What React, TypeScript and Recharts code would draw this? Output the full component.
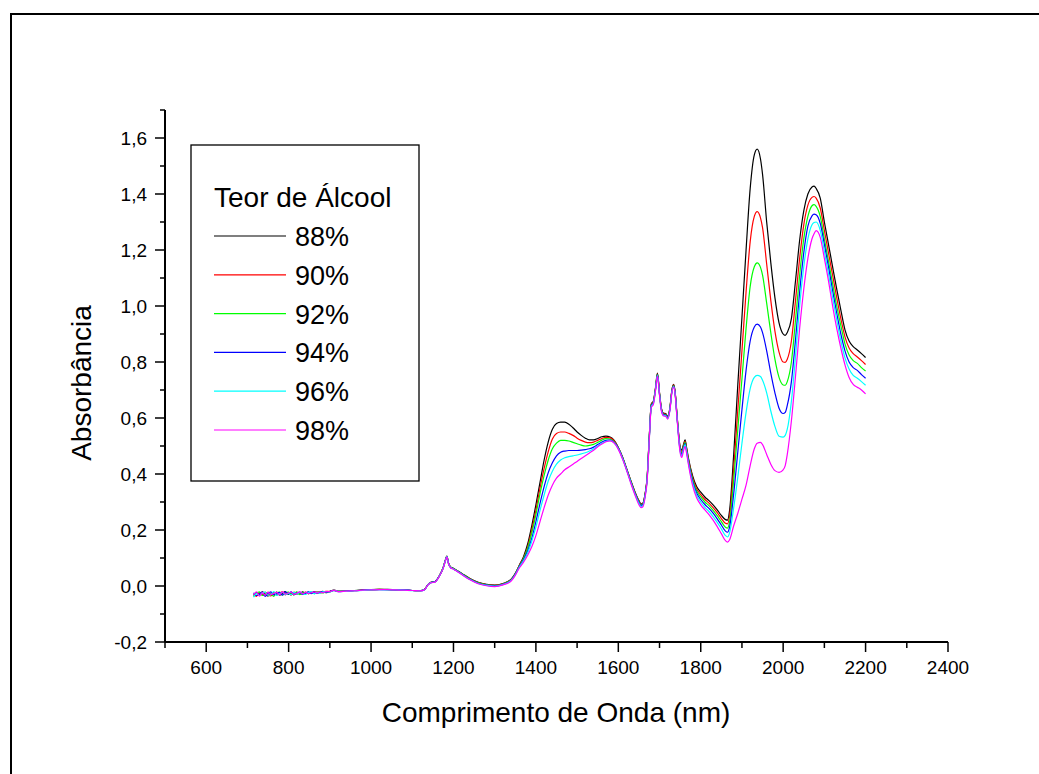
import React from "react";
import { LineChart, Line, XAxis, YAxis } from "recharts";

// Wavelengths (nm)
const WAVELENGTH_NM = [
  715, 722, 729, 736, 743, 750, 757, 764, 771, 778, 785, 792, 799, 806, 813, 820, 827, 834, 841, 848, 855, 862, 869, 876, 883, 890,
  900, 910, 920, 940, 960, 980, 1000, 1020, 1040, 1060, 1080, 1100, 1120,
  1130, 1138, 1145, 1155, 1165, 1175, 1181, 1184, 1188, 1193, 1200, 1210, 1220, 1240, 1260, 1280, 1300, 1320, 1340,
  1350, 1360, 1370, 1380, 1390, 1400, 1410, 1420, 1430, 1440, 1450, 1460, 1470, 1480, 1490, 1500, 1510, 1520, 1530, 1540, 1550, 1560, 1570, 1580, 1590, 1600, 1610, 1620, 1630, 1640, 1650, 1655, 1660,
  1665, 1670, 1675, 1680, 1685, 1690, 1695, 1700, 1705, 1710, 1715, 1720, 1725, 1730, 1734, 1738, 1742, 1746, 1750, 1754, 1758, 1762, 1766, 1770,
  1780, 1790, 1800, 1810, 1820, 1830, 1840, 1850, 1860, 1865,
  1870, 1880, 1890, 1900, 1910, 1920, 1930, 1937, 1945, 1950, 1960, 1970, 1980, 1990, 2000, 2005, 2010, 2020, 2030, 2040, 2050, 2060, 2070, 2075, 2080, 2090, 2100, 2110, 2120, 2130, 2140, 2150, 2160, 2170, 2180, 2190, 2200,
];

const ABS_88 = [
  -0.034, -0.024, -0.031, -0.021, -0.029, -0.036, -0.025, -0.031, -0.022, -0.033, -0.026, -0.02, -0.03, -0.024, -0.032, -0.023, -0.029, -0.021, -0.027, -0.022, -0.026, -0.02, -0.025, -0.021, -0.019, -0.024,
  -0.019, -0.015, -0.018, -0.018, -0.016, -0.015, -0.013, -0.012, -0.012, -0.014, -0.015, -0.016, -0.017,
  -0.012, 0.005, 0.013, 0.016, 0.035, 0.066, 0.096, 0.107, 0.082, 0.068, 0.063, 0.054, 0.045, 0.027, 0.013, 0.006, 0.003, 0.009, 0.024,
  0.045, 0.075, 0.105, 0.15, 0.215, 0.29, 0.37, 0.45, 0.515, 0.56, 0.58, 0.585, 0.585, 0.578, 0.565, 0.55, 0.538, 0.528, 0.522, 0.522, 0.527, 0.533, 0.535, 0.532, 0.52, 0.495, 0.462, 0.42, 0.378, 0.338, 0.305, 0.293, 0.297,
  0.33, 0.39, 0.53, 0.65, 0.66, 0.705, 0.76, 0.69, 0.632, 0.617, 0.616, 0.606, 0.635, 0.7, 0.72, 0.692, 0.62, 0.55, 0.497, 0.485, 0.505, 0.522, 0.492, 0.458,
  0.395, 0.355, 0.335, 0.318, 0.305, 0.29, 0.272, 0.252, 0.237, 0.235,
  0.27, 0.47, 0.72, 0.96, 1.2, 1.42, 1.54, 1.56, 1.525, 1.47, 1.3, 1.155, 1.03, 0.94, 0.9, 0.895, 0.905, 0.955, 1.09, 1.235, 1.34, 1.4, 1.425, 1.428, 1.42, 1.385, 1.3, 1.22, 1.14, 1.06, 0.985, 0.915, 0.875, 0.855, 0.843, 0.83, 0.816,
];

const ABS_90 = [
  -0.028, -0.037, -0.024, -0.032, -0.022, -0.031, -0.035, -0.023, -0.032, -0.025, -0.021, -0.032, -0.023, -0.033, -0.022, -0.03, -0.024, -0.029, -0.022, -0.027, -0.021, -0.026, -0.02, -0.025, -0.023, -0.019,
  -0.02, -0.016, -0.019, -0.017, -0.017, -0.014, -0.013, -0.012, -0.013, -0.014, -0.015, -0.016, -0.017,
  -0.012, 0.005, 0.013, 0.015, 0.035, 0.065, 0.095, 0.106, 0.081, 0.067, 0.062, 0.053, 0.044, 0.026, 0.012, 0.005, 0.002, 0.008, 0.023,
  0.044, 0.074, 0.1, 0.14, 0.2, 0.27, 0.35, 0.42, 0.48, 0.525, 0.545, 0.55, 0.55, 0.545, 0.538, 0.528, 0.52, 0.514, 0.512, 0.514, 0.52, 0.527, 0.531, 0.529, 0.518, 0.494, 0.46, 0.419, 0.376, 0.336, 0.303, 0.291, 0.295,
  0.328, 0.388, 0.528, 0.648, 0.658, 0.703, 0.758, 0.688, 0.63, 0.615, 0.614, 0.604, 0.633, 0.698, 0.718, 0.69, 0.617, 0.547, 0.493, 0.48, 0.5, 0.517, 0.488, 0.453,
  0.388, 0.347, 0.326, 0.309, 0.296, 0.28, 0.262, 0.241, 0.224, 0.222,
  0.25, 0.42, 0.63, 0.84, 1.05, 1.23, 1.32, 1.337, 1.315, 1.28, 1.15, 1.02, 0.91, 0.835, 0.8, 0.799, 0.81, 0.875, 1.02, 1.17, 1.29, 1.36, 1.388, 1.391, 1.385, 1.35, 1.27, 1.19, 1.11, 1.03, 0.955, 0.89, 0.85, 0.83, 0.818, 0.805, 0.791,
];

const ABS_92 = [
  -0.038, -0.026, -0.021, -0.034, -0.03, -0.023, -0.029, -0.037, -0.024, -0.022, -0.032, -0.026, -0.022, -0.029, -0.027, -0.021, -0.031, -0.025, -0.023, -0.028, -0.022, -0.027, -0.024, -0.02, -0.025, -0.021,
  -0.021, -0.015, -0.019, -0.018, -0.016, -0.015, -0.014, -0.012, -0.013, -0.013, -0.015, -0.016, -0.016,
  -0.012, 0.005, 0.012, 0.015, 0.034, 0.065, 0.095, 0.106, 0.081, 0.067, 0.062, 0.053, 0.044, 0.025, 0.011, 0.004, 0.001, 0.007, 0.022,
  0.043, 0.072, 0.098, 0.135, 0.19, 0.255, 0.33, 0.395, 0.45, 0.49, 0.51, 0.52, 0.52, 0.518, 0.513, 0.508, 0.503, 0.5, 0.502, 0.506, 0.513, 0.521, 0.526, 0.525, 0.515, 0.493, 0.459, 0.418, 0.375, 0.334, 0.3, 0.289, 0.293,
  0.326, 0.386, 0.526, 0.646, 0.656, 0.701, 0.756, 0.686, 0.628, 0.613, 0.612, 0.602, 0.631, 0.696, 0.716, 0.688, 0.615, 0.544, 0.489, 0.475, 0.496, 0.513, 0.484, 0.449,
  0.382, 0.34, 0.318, 0.3, 0.287, 0.27, 0.251, 0.23, 0.21, 0.207,
  0.23, 0.38, 0.56, 0.74, 0.92, 1.07, 1.14, 1.154, 1.138, 1.11, 1.01, 0.905, 0.81, 0.745, 0.718, 0.717, 0.73, 0.8, 0.95, 1.11, 1.24, 1.32, 1.358, 1.362, 1.356, 1.32, 1.24, 1.16, 1.08, 1.0, 0.93, 0.865, 0.825, 0.805, 0.795, 0.78, 0.768,
];

const ABS_94 = [
  -0.024, -0.034, -0.028, -0.022, -0.037, -0.026, -0.021, -0.032, -0.028, -0.023, -0.033, -0.021, -0.028, -0.021, -0.03, -0.026, -0.022, -0.03, -0.025, -0.021, -0.027, -0.022, -0.026, -0.022, -0.02, -0.022,
  -0.02, -0.016, -0.02, -0.018, -0.017, -0.015, -0.013, -0.013, -0.013, -0.014, -0.014, -0.016, -0.017,
  -0.013, 0.004, 0.012, 0.015, 0.034, 0.064, 0.094, 0.105, 0.08, 0.066, 0.061, 0.052, 0.043, 0.024, 0.01, 0.003, 0.0, 0.006, 0.021,
  0.042, 0.07, 0.094, 0.125, 0.17, 0.23, 0.295, 0.355, 0.405, 0.44, 0.465, 0.478, 0.482, 0.484, 0.484, 0.484, 0.485, 0.487, 0.49, 0.496, 0.505, 0.514, 0.52, 0.521, 0.513, 0.492, 0.458, 0.417, 0.373, 0.332, 0.298, 0.287, 0.291,
  0.324, 0.384, 0.524, 0.644, 0.654, 0.699, 0.754, 0.684, 0.626, 0.611, 0.61, 0.6, 0.629, 0.694, 0.714, 0.686, 0.612, 0.541, 0.485, 0.47, 0.492, 0.509, 0.48, 0.444,
  0.375, 0.332, 0.309, 0.291, 0.277, 0.26, 0.24, 0.218, 0.196, 0.192,
  0.21, 0.33, 0.48, 0.63, 0.77, 0.875, 0.925, 0.935, 0.925, 0.905, 0.84, 0.76, 0.69, 0.635, 0.616, 0.62, 0.645, 0.73, 0.88, 1.05, 1.19, 1.285, 1.322, 1.328, 1.326, 1.295, 1.22, 1.14, 1.055, 0.975, 0.9, 0.84, 0.8, 0.78, 0.77, 0.755, 0.742,
];

const ABS_96 = [
  -0.04, -0.027, -0.034, -0.025, -0.022, -0.033, -0.03, -0.02, -0.034, -0.028, -0.023, -0.031, -0.026, -0.032, -0.023, -0.029, -0.023, -0.027, -0.03, -0.023, -0.02, -0.028, -0.022, -0.026, -0.021, -0.02,
  -0.021, -0.016, -0.019, -0.019, -0.017, -0.016, -0.014, -0.013, -0.014, -0.014, -0.015, -0.017, -0.017,
  -0.013, 0.004, 0.012, 0.014, 0.034, 0.064, 0.094, 0.105, 0.08, 0.066, 0.061, 0.052, 0.042, 0.023, 0.009, 0.002, -0.001, 0.005, 0.02,
  0.04, 0.068, 0.09, 0.118, 0.16, 0.21, 0.27, 0.325, 0.375, 0.41, 0.435, 0.45, 0.458, 0.462, 0.465, 0.468, 0.472, 0.476, 0.482, 0.49, 0.5, 0.51, 0.517, 0.519, 0.511, 0.49, 0.456, 0.415, 0.371, 0.33, 0.295, 0.284, 0.288,
  0.321, 0.381, 0.521, 0.641, 0.651, 0.697, 0.752, 0.682, 0.624, 0.609, 0.608, 0.598, 0.627, 0.692, 0.712, 0.684, 0.61, 0.538, 0.481, 0.465, 0.488, 0.505, 0.476, 0.44,
  0.368, 0.324, 0.3, 0.281, 0.266, 0.248, 0.227, 0.204, 0.18, 0.175,
  0.19, 0.28, 0.39, 0.51, 0.62, 0.705, 0.745, 0.752, 0.748, 0.735, 0.69, 0.625, 0.57, 0.535, 0.532, 0.538, 0.56, 0.66, 0.82, 1.0, 1.14, 1.24, 1.29, 1.298, 1.3, 1.27, 1.195, 1.115, 1.03, 0.95, 0.875, 0.815, 0.775, 0.752, 0.742, 0.73, 0.717,
];

const ABS_98 = [
  -0.031, -0.021, -0.036, -0.024, -0.033, -0.022, -0.03, -0.027, -0.023, -0.032, -0.021, -0.029, -0.025, -0.022, -0.03, -0.025, -0.021, -0.028, -0.023, -0.027, -0.024, -0.021, -0.026, -0.021, -0.024, -0.02,
  -0.02, -0.015, -0.02, -0.018, -0.017, -0.015, -0.014, -0.013, -0.013, -0.014, -0.015, -0.016, -0.017,
  -0.013, 0.004, 0.011, 0.014, 0.033, 0.063, 0.093, 0.104, 0.079, 0.065, 0.06, 0.051, 0.041, 0.022, 0.008, 0.001, -0.002, 0.004, 0.018,
  0.038, 0.065, 0.085, 0.11, 0.14, 0.18, 0.23, 0.28, 0.325, 0.36, 0.385, 0.4, 0.415, 0.425, 0.435, 0.445, 0.455, 0.465, 0.475, 0.485, 0.497, 0.507, 0.515, 0.518, 0.51, 0.488, 0.454, 0.413, 0.368, 0.327, 0.29, 0.28, 0.284,
  0.317, 0.377, 0.517, 0.638, 0.648, 0.694, 0.75, 0.68, 0.622, 0.607, 0.606, 0.596, 0.625, 0.69, 0.71, 0.682, 0.607, 0.534, 0.476, 0.459, 0.482, 0.499, 0.471, 0.435,
  0.36, 0.315, 0.29, 0.272, 0.255, 0.235, 0.212, 0.187, 0.162, 0.157,
  0.165, 0.215, 0.26, 0.31, 0.36, 0.43, 0.49, 0.51, 0.513, 0.505, 0.47, 0.435, 0.412, 0.406, 0.415, 0.43, 0.47, 0.59, 0.75, 0.92, 1.06, 1.17, 1.24, 1.258, 1.269, 1.245, 1.17, 1.09, 1.0, 0.92, 0.85, 0.79, 0.745, 0.72, 0.71, 0.7, 0.686,
];

const SERIES_NAMES = ["88%", "90%", "92%", "94%", "96%", "98%"];
const SERIES_KEYS = ["s88", "s90", "s92", "s94", "s96", "s98"];
const SERIES_COLORS = ["#000000", "#ff0000", "#00ff00", "#0000ff", "#00ffff", "#ff00ff"];
const SERIES_VALUES = [ABS_88, ABS_90, ABS_92, ABS_94, ABS_96, ABS_98];

const X_TICKS = [500, 600, 700, 800, 900, 1000, 1100, 1200, 1300, 1400, 1500, 1600, 1700, 1800, 1900, 2000, 2100, 2200, 2300, 2400];
const X_LABELED = [600, 800, 1000, 1200, 1400, 1600, 1800, 2000, 2200, 2400];
const Y_TICKS = [-0.2, -0.1, 0, 0.1, 0.2, 0.3, 0.4, 0.5, 0.6, 0.7, 0.8, 0.9, 1.0, 1.1, 1.2, 1.3, 1.4, 1.5, 1.6, 1.7];
const Y_LABELED = [-0.2, 0, 0.2, 0.4, 0.6, 0.8, 1.0, 1.2, 1.4, 1.6];

const LEGEND_TITLE = "Teor de Álcool";
const X_TITLE = "Comprimento de Onda (nm)";
const Y_TITLE = "Absorbância";

const FONT = '"Liberation Sans", Arial, Helvetica, sans-serif';

const data = WAVELENGTH_NM.map((nm, i) => {
  const row: any = { nm };
  SERIES_KEYS.forEach((k, j) => {
    row[k] = SERIES_VALUES[j][i];
  });
  return row;
});

const isIn = (arr: number[], v: number) => arr.some((m) => Math.abs(m - v) < 1e-6);
const fmtY = (v: number) => v.toFixed(1).replace(".", ",");

const LeftTick = (props: any) => {
  const { x, y, payload } = props;
  const v = payload.value;
  const major = isIn(Y_LABELED, v);
  return (
    <g>
      <line x1={x - (major ? 10 : 5)} x2={x} y1={y} y2={y} stroke="#000" strokeWidth={1.5} />
      {major && (
        <text x={x - 18} y={y} dy="0.36em" textAnchor="end" fontSize={19} fontFamily={FONT} fill="#000">
          {fmtY(v)}
        </text>
      )}
    </g>
  );
};

const BottomTick = (props: any) => {
  const { x, y, payload } = props;
  const v = payload.value;
  const major = isIn(X_LABELED, v);
  return (
    <g>
      <line x1={x} x2={x} y1={y} y2={y + (major ? 10 : 6)} stroke="#000" strokeWidth={1.5} />
      {major && (
        <text x={x} y={y + 32} textAnchor="middle" fontSize={19} fontFamily={FONT} fill="#000">
          {String(v)}
        </text>
      )}
    </g>
  );
};

export default function App() {
  return (
    <div
      style={{
        position: "absolute",
        left: 0,
        top: 0,
        width: 1039,
        height: 774,
        overflow: "hidden",
        background: "#fff",
        fontFamily: FONT,
      }}
    >
      <div
        style={{
          position: "absolute",
          left: 10,
          top: 13,
          width: 1100,
          height: 900,
          borderLeft: "2px solid #000",
          borderTop: "2px solid #000",
        }}
      />
      <div style={{ position: "absolute", left: 0, top: 0 }}>
        <LineChart width={1039} height={774} data={data} margin={{ top: 110, right: 91, bottom: 72, left: 0 }}>
          <XAxis
            xAxisId="b"
            dataKey="nm"
            type="number"
            domain={[500, 2400]}
            ticks={X_TICKS}
            interval={0}
            tickSize={0}
            tickMargin={0}
            tick={<BottomTick />}
            axisLine={{ stroke: "#000", strokeWidth: 2 }}
            height={60}
            allowDataOverflow
          />
          <XAxis
            xAxisId="t"
            orientation="top"
            dataKey="nm"
            type="number"
            domain={[500, 2400]}
            tick={false}
            tickLine={false}
            axisLine={{ stroke: "#000", strokeWidth: 2 }}
            height={0}
            allowDataOverflow
          />
          <YAxis
            yAxisId="l"
            type="number"
            domain={[-0.2, 1.7]}
            ticks={Y_TICKS}
            interval={0}
            tickSize={0}
            tickMargin={0}
            tick={<LeftTick />}
            axisLine={{ stroke: "#000", strokeWidth: 2 }}
            width={165}
            allowDataOverflow
          />
          <YAxis
            yAxisId="r"
            orientation="right"
            type="number"
            domain={[-0.2, 1.7]}
            ticks={Y_TICKS}
            interval={0}
            tick={false}
            tickSize={4}
            mirror
            tickLine={{ stroke: "#000", strokeWidth: 1.5 }}
            axisLine={{ stroke: "#000", strokeWidth: 2 }}
            width={0}
            allowDataOverflow
          />
          {SERIES_KEYS.map((k, j) => (
            <Line
              key={k}
              xAxisId="b"
              yAxisId="l"
              dataKey={k}
              name={SERIES_NAMES[j]}
              type="monotone"
              stroke={SERIES_COLORS[j]}
              strokeWidth={1.2}
              dot={false}
              activeDot={false}
              isAnimationActive={false}
            />
          ))}
        </LineChart>
      </div>
      <svg
        width={1039}
        height={774}
        style={{ position: "absolute", left: 0, top: 0, pointerEvents: "none" }}
      >
        {/* Legend box */}
        <rect x={191} y={145} width={228} height={336} fill="#fff" stroke="#000" strokeWidth={1.3} />
        <text x={214} y={207} fontSize={28} fontFamily={FONT} fill="#000">
          {LEGEND_TITLE}
        </text>
        {SERIES_NAMES.map((n, j) => {
          const ly = 236 + j * 38.8;
          return (
            <g key={n}>
              <line x1={214} x2={286} y1={ly} y2={ly} stroke={SERIES_COLORS[j]} strokeWidth={1.2} />
              <text x={295} y={ly + 10} fontSize={27} fontFamily={FONT} fill="#000">
                {n}
              </text>
            </g>
          );
        })}
        {/* Axis titles */}
        <text x={556} y={722} textAnchor="middle" fontSize={28} fontFamily={FONT} fill="#000">
          {X_TITLE}
        </text>
        <text
          x={0}
          y={0}
          transform="translate(91, 383) rotate(-90)"
          textAnchor="middle"
          fontSize={28}
          fontFamily={FONT}
          fill="#000"
        >
          {Y_TITLE}
        </text>
      </svg>
    </div>
  );
}
